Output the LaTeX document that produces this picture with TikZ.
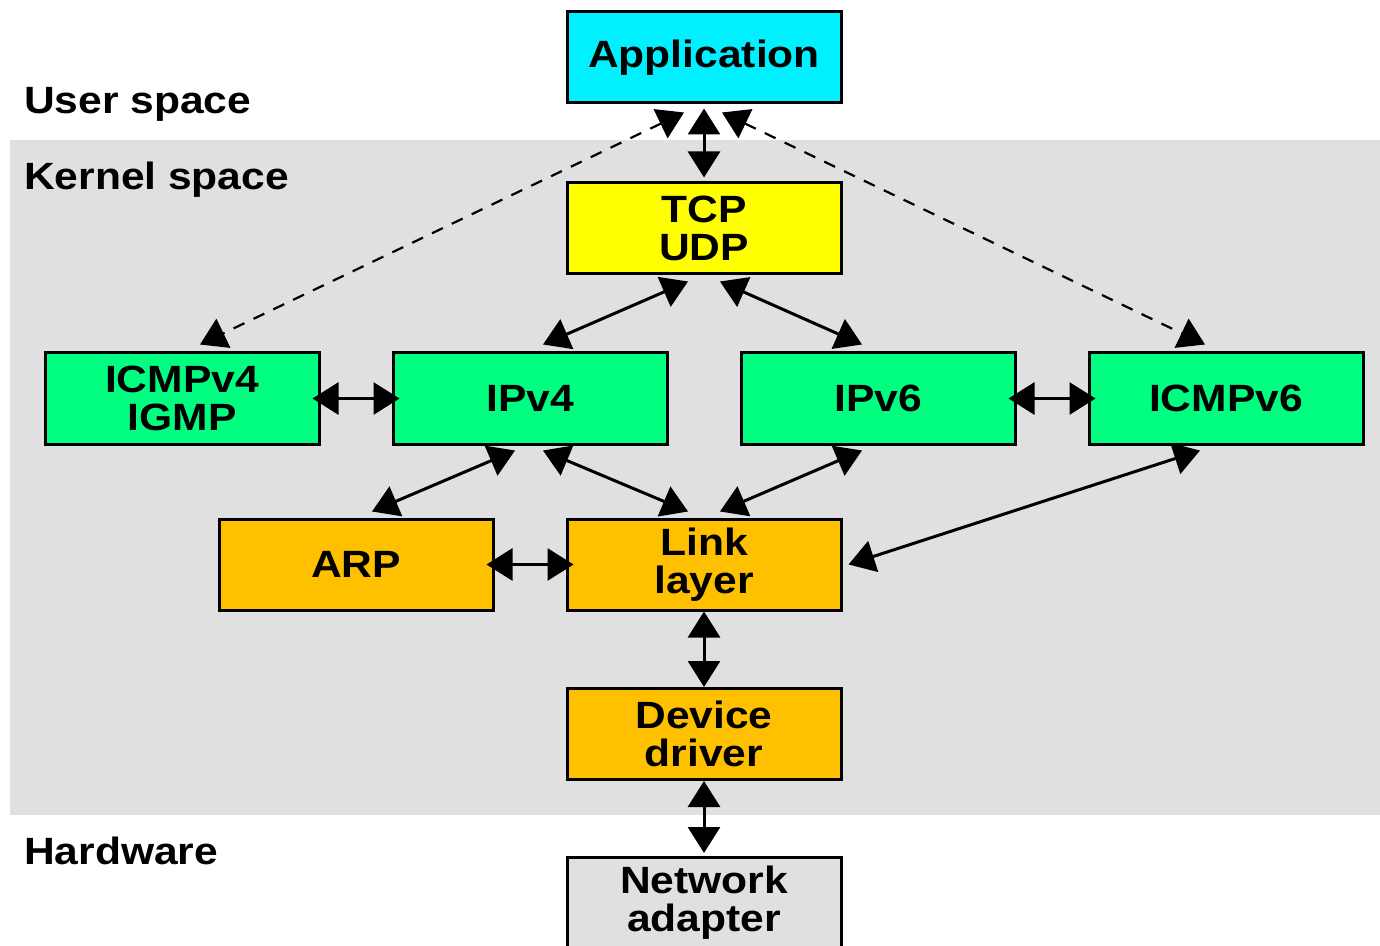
\documentclass[tikz,border=0pt]{standalone}
\usepackage{fontspec}
\newfontfamily\capafont[FakeStretch=1.12]{Liberation Sans}
\usetikzlibrary{arrows.meta}
\definecolor{cian}{RGB}{0,240,255}
\definecolor{amarillo}{RGB}{255,255,0}
\definecolor{verde}{RGB}{0,255,128}
\definecolor{naranja}{RGB}{255,192,0}
\definecolor{fondo}{RGB}{224,224,224}

\begin{document}
\begin{tikzpicture}[x=0.5pt,y=-0.5pt]
		% estilos
		\tikzstyle{every node}=[font=\capafont\bfseries\fontsize{19}{19}\selectfont]
		\tikzstyle{caja}=[draw, line width=1.5pt, minimum width=137pt, minimum height=45.5pt, align=center, inner sep=0pt]
		\tikzstyle{flecha}=[{Triangle[length=13pt,width=16pt]}-{Triangle[length=13pt,width=16pt]}, line width=1.5pt]
		\tikzstyle{punteada}=[flecha, dash pattern=on 6pt off 5pt, line width=1.1pt]
		\useasboundingbox (0,0) rectangle (1380,946);
		\clip (0,0) rectangle (1380,946);
		% fondo
		\fill [fondo] (10,140) rectangle (1380,815);
		\node [anchor=west] (user) at (17,104) {User space};
		\node [anchor=west] (kernel) at (17,180) {Kernel space};
		\node [anchor=west] (hw) at (17,851) {Hardware};
		% cajas
		\node [caja, fill=cian] (app) at (704,57.5) {Application};
		\node [caja, fill=amarillo] (tcp) at (704,228.5) {TCP\\UDP};
		\node [caja, fill=verde] (icmp4) at (182,398.5) {ICMPv4\\IGMP};
		\node [caja, fill=verde] (ipv4) at (530,398.5) {IPv4};
		\node [caja, fill=verde] (ipv6) at (878,398.5) {IPv6};
		\node [caja, fill=verde] (icmp6) at (1226,398.5) {ICMPv6};
		\node [caja, fill=naranja] (arp) at (356,564.5) {ARP};
		\node [caja, fill=naranja] (link) at (704,564.5) {Link\\layer};
		\node [caja, fill=naranja] (driver) at (704,734) {Device\\driver};
		\node [caja, fill=fondo] (adapter) at (704,903) {Network\\adapter};
		% flechas
		\draw [flecha] ([yshift=-2pt]app.south) -- ([yshift=2pt]tcp.north);
		\draw [punteada] ([xshift=-10pt,yshift=-4pt]app.south) -- ([xshift=9pt,yshift=3.5pt]icmp4.north);
		\draw [punteada] ([xshift=9pt,yshift=-4pt]app.south) -- ([xshift=-10.5pt,yshift=3.5pt]icmp6.north);
		\draw [flecha] ([xshift=-8pt,yshift=-3pt]tcp.south) -- ([xshift=6.5pt,yshift=3.5pt]ipv4.north);
		\draw [flecha] ([xshift=8pt,yshift=-3pt]tcp.south) -- ([xshift=-8pt,yshift=3.5pt]ipv6.north);
		\draw [flecha] ([xshift=-4pt]icmp4.east) -- ([xshift=4pt]ipv4.west);
		\draw [flecha] ([xshift=-4pt]ipv6.east) -- ([xshift=4pt]icmp6.west);
		\draw [flecha] ([xshift=-7.5pt,yshift=-2.5pt]ipv4.south) -- ([xshift=8pt,yshift=3pt]arp.north);
		\draw [flecha] ([xshift=6.5pt,yshift=-2.5pt]ipv4.south) -- ([xshift=-8pt,yshift=3pt]link.north);
		\draw [flecha] ([xshift=-8pt,yshift=-2.5pt]ipv6.south) -- ([xshift=8pt,yshift=3pt]link.north);
		\draw [flecha] ([xshift=-13pt,yshift=-2.5pt]icmp6.south) -- ([xshift=3pt]link.east);
		\draw [flecha] ([xshift=-4pt]arp.east) -- ([xshift=4pt]link.west);
		\draw [flecha] (link.south) -- (driver.north);
		\draw [flecha] (driver.south) -- ([yshift=1.5pt]adapter.north);
	\end{tikzpicture}
\end{document}
